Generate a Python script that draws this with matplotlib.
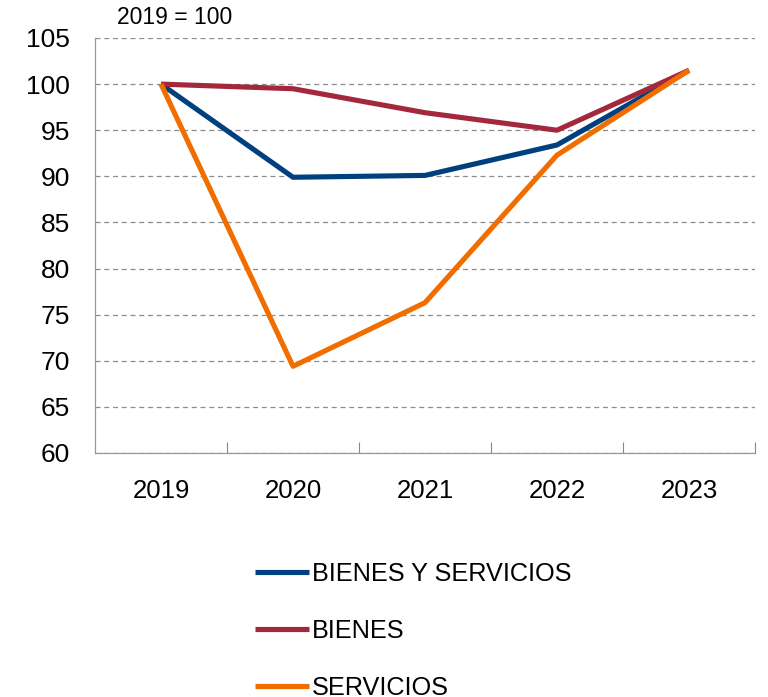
import matplotlib
matplotlib.use("Agg")
import matplotlib.pyplot as plt
from matplotlib.ticker import FixedLocator

plt.rcParams["font.family"] = ["Liberation Sans", "DejaVu Sans"]

# Data (index, 2019 = 100)
years = ["2019", "2020", "2021", "2022", "2023"]
bienes_y_servicios = [100.0, 89.9, 90.1, 93.4, 101.5]
bienes = [100.0, 99.5, 96.9, 95.0, 101.5]
servicios = [100.0, 69.4, 76.3, 92.3, 101.5]

series_labels = ["BIENES Y SERVICIOS", "BIENES", "SERVICIOS"]
colors = ["#00407f", "#a3283c", "#f26d00"]

fig = plt.figure(figsize=(7.68, 6.97), dpi=100)
ax = fig.add_axes([95 / 768, 1 - 453 / 697, 660 / 768, 415 / 697])

x = list(range(len(years)))
for vals, lab, col in zip([bienes_y_servicios, bienes, servicios], series_labels, colors):
    ax.plot(x, vals, color=col, lw=3.7, label=lab, solid_capstyle="butt")

ax.set_xlim(-0.5, len(years) - 0.5)
ax.set_ylim(60, 105)
ax.set_yticks(range(60, 106, 5))
ax.set_xticks(x)
ax.set_xticklabels(years)

# tick marks between categories, pointing inward
ax.xaxis.set_minor_locator(FixedLocator([i + 0.5 for i in x]))
ax.tick_params(axis="x", which="major", length=0, pad=19, labelsize=18.5)
ax.tick_params(axis="x", which="minor", length=8, direction="in", color="#888888", width=0.8)
ax.tick_params(axis="y", length=0, pad=18, labelsize=19)

ax.yaxis.grid(True, linestyle=(0, (4, 3)), color="#8c8c8c", lw=0.9)
ax.set_axisbelow(True)

for s in ["top", "right"]:
    ax.spines[s].set_visible(False)
for s in ["left", "bottom"]:
    ax.spines[s].set_color("#999999")
    ax.spines[s].set_linewidth(0.9)

fig.text(117 / 768, 1 - 18 / 697, "2019 = 100", fontsize=16.5, va="center", ha="left")

fig.legend(loc="upper left", bbox_to_anchor=(255 / 768, 1 - 562 / 697),
           frameon=False, fontsize=18.2, handlelength=2.15, handletextpad=0.1,
           labelspacing=1.3, borderpad=0, borderaxespad=0)

fig.savefig("out.png", dpi=100)
